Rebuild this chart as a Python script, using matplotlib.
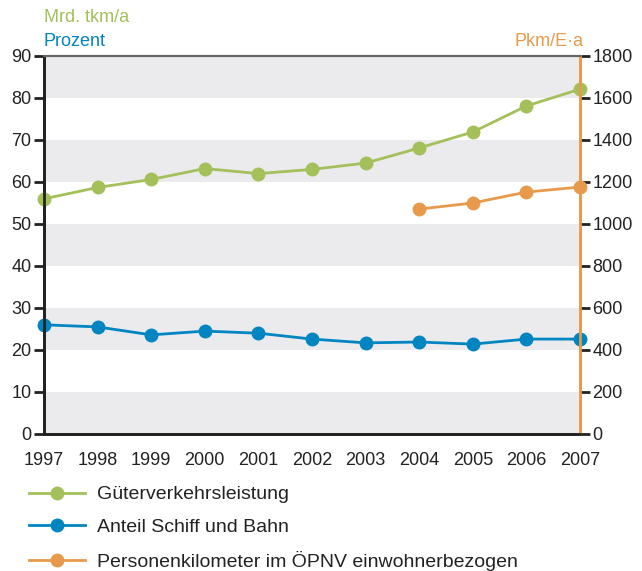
import matplotlib.pyplot as plt
import numpy as np

plt.rcParams['font.family'] = ['Liberation Sans', 'DejaVu Sans']

years = [1997, 1998, 1999, 2000, 2001, 2002, 2003, 2004, 2005, 2006, 2007]
gueter = [56.0, 58.7, 60.6, 63.2, 62.0, 63.0, 64.5, 68.1, 71.9, 78.1, 82.1]
anteil = [26.0, 25.5, 23.6, 24.5, 24.0, 22.6, 21.7, 21.9, 21.4, 22.6, 22.6]
oepnv_years = [2004, 2005, 2006, 2007]
oepnv = [1071, 1100, 1152, 1176]

green = '#a3c05a'
blue = '#0085c0'
orange = '#e89a4c'

fig = plt.figure(figsize=(6.42, 5.71), dpi=100)
ax = fig.add_axes([44/642, 1-434/571, 536/642, 378/571])

# grey bands
for lo in range(0, 90, 20):
    ax.axhspan(lo, lo+10, color='#ebebed', lw=0, zorder=0)

ax.plot(years, gueter, '-o', color=green, lw=2, ms=9, clip_on=False, zorder=3,
        label='Güterverkehrsleistung')
ax.plot(years, anteil, '-o', color=blue, lw=2, ms=9, clip_on=False, zorder=3,
        label='Anteil Schiff und Bahn')

ax.set_xlim(1997, 2007)
ax.set_ylim(0, 90)
ax.set_yticks(range(0, 91, 10))
ax.set_xticks(years)

ax2 = ax.twinx()
ax2.plot(oepnv_years, oepnv, '-o', color=orange, lw=2, ms=9, clip_on=False, zorder=3,
         label='Personenkilometer im ÖPNV einwohnerbezogen')
ax2.set_ylim(0, 1800)
ax2.set_yticks(range(0, 1801, 200))

for a in (ax, ax2):
    a.tick_params(axis='both', labelsize=13, length=7, width=2, color='#222222',
                  labelcolor='#222222', pad=2)
    a.spines['top'].set_color('#666666')
    a.spines['top'].set_linewidth(1.5)
    a.spines['left'].set_color('#222222')
    a.spines['left'].set_linewidth(2)
    a.spines['bottom'].set_color('#222222')
    a.spines['bottom'].set_linewidth(2)
    a.spines['right'].set_color(orange)
    a.spines['right'].set_linewidth(2)
ax.tick_params(axis='x', length=0, pad=13)

fig.text(44/642, 1-18/571, 'Mrd. tkm/a', color=green, fontsize=13, va='center', ha='left')
fig.text(44/642, 1-42/571, 'Prozent', color=blue, fontsize=13, va='center', ha='left')
fig.text(583/642, 1-42/571, 'Pkm/E·a', color=orange, fontsize=13, va='center', ha='right')

h1, l1 = ax.get_legend_handles_labels()
h2, l2 = ax2.get_legend_handles_labels()
fig.legend(h1 + h2, l1 + l2, loc='upper left', bbox_to_anchor=(21/642, 1-478/571),
           frameon=False, fontsize=14, handlelength=2.9, labelspacing=0.76,
           handletextpad=0.6, labelcolor='#222222', borderaxespad=0)

fig.savefig('out.png', dpi=100)
